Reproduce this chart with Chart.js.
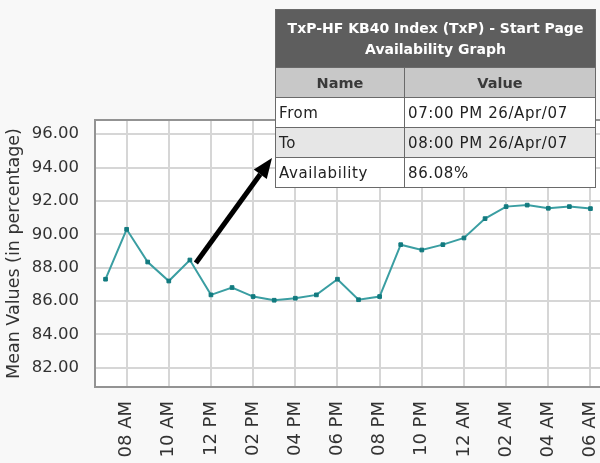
<!DOCTYPE html>
<html>
<head>
<meta charset="utf-8">
<script src="https://cdn.jsdelivr.net/npm/chart.js@4/dist/chart.umd.min.js"></script>
<style>
  html, body { margin: 0; padding: 0; background: #f8f8f8; }
  #wrap { position: relative; width: 600px; height: 463px; overflow: hidden; }
  #wrap canvas { position: absolute; left: 0; top: 0; }
  #info {
    position: absolute; left: 275px; top: 9px; width: 321px;
    border-collapse: collapse; font-family: 'DejaVu Sans', sans-serif;
    border: 1px solid #555;
  }
  #info td, #info th { border: 1px solid #6a6a6a; padding: 0 3px; }
  #info .titulo th {
    background: #5e5e5e; color: #fff; font-size: 14px; font-weight: bold;
    height: 57px; line-height: 21px; text-align: center; padding: 0;
  }
  #info .cab th {
    background: #c8c8c8; color: #3a3a3a; font-size: 14.5px; font-weight: bold;
    height: 29px; text-align: center;
  }
  #info td { font-size: 15px; letter-spacing: 0.6px; color: #222; height: 29px; background: #fff; }
  #info tr.cinza td { background: #e6e6e6; }
  #info td.nome { width: 122px; }
</style>
</head>
<body>
<div id="wrap">
  <canvas id="grafico" width="606" height="463"></canvas>
  <table id="info">
    <tr class="titulo"><th colspan="2">TxP-HF KB40 Index (TxP) - Start Page<br>Availability Graph</th></tr>
    <tr class="cab"><th>Name</th><th>Value</th></tr>
    <tr><td class="nome">From</td><td>07:00 PM 26/Apr/07</td></tr>
    <tr class="cinza"><td class="nome">To</td><td>08:00 PM 26/Apr/07</td></tr>
    <tr><td class="nome">Availability</td><td>86.08%</td></tr>
  </table>
</div>
<script>
// ── Dados ───────────────────────────────────────────────
var HORAS = [
  '07 AM', '08 AM', '09 AM', '10 AM', '11 AM', '12 PM',
  '01 PM', '02 PM', '03 PM', '04 PM', '05 PM', '06 PM',
  '07 PM', '08 PM', '09 PM', '10 PM', '11 PM', '12 AM',
  '01 AM', '02 AM', '03 AM', '04 AM', '05 AM', '06 AM'
];
var MEDIAS = [
  87.31, 90.30, 88.34, 87.20, 88.46, 86.37,
  86.81, 86.27, 86.05, 86.17, 86.37, 87.31,
  86.08, 86.27, 89.38, 89.06, 89.38, 89.78,
  90.94, 91.66, 91.75, 91.56, 91.66, 91.54
];
var TICKS_Y = [82, 84, 86, 88, 90, 92, 94, 96];
var Y_MIN = 80.85;
var Y_MAX = 96.85;
var PONTO_SETA = 4; // ponto de onde sai a seta

// ── Cores ───────────────────────────────────────────────
var TEAL        = '#3a9ea2';
var TEAL_ESCURO = '#127a7f';
var GRADE       = '#d6d6d6';
var BORDA       = '#939393';
var TEXTO       = '#333333';

// fundo branco + moldura da área do gráfico
var moldura = {
  id: 'moldura',
  beforeDraw: function(chart) {
    var a = chart.chartArea, ctx = chart.ctx;
    ctx.save();
    ctx.fillStyle = '#ffffff';
    ctx.fillRect(a.left, a.top, a.right - a.left, a.bottom - a.top);
    ctx.restore();
  },
  afterDatasetsDraw: function(chart) {
    var a = chart.chartArea, ctx = chart.ctx;
    ctx.save();
    ctx.strokeStyle = BORDA;
    ctx.lineWidth = 2;
    ctx.strokeRect(a.left, a.top, a.right - a.left, a.bottom - a.top);
    ctx.restore();
  }
};

// seta preta do ponto até a tabela
var seta = {
  id: 'seta',
  afterDraw: function(chart) {
    var ctx = chart.ctx;
    var x0 = chart.scales.x.getPixelForValue(PONTO_SETA) + 6;
    var y0 = chart.scales.y.getPixelForValue(MEDIAS[PONTO_SETA]) + 3;
    var x1 = 272, y1 = 158;
    var ang = Math.atan2(y1 - y0, x1 - x0);
    var comp = 20, larg = 8;
    var bx = x1 - comp * Math.cos(ang), by = y1 - comp * Math.sin(ang);
    ctx.save();
    ctx.strokeStyle = '#000';
    ctx.lineWidth = 5;
    ctx.beginPath();
    ctx.moveTo(x0, y0);
    ctx.lineTo(bx, by);
    ctx.stroke();
    ctx.fillStyle = '#000';
    ctx.beginPath();
    ctx.moveTo(x1, y1);
    ctx.lineTo(bx + larg * Math.sin(ang), by - larg * Math.cos(ang));
    ctx.lineTo(bx - larg * Math.sin(ang), by + larg * Math.cos(ang));
    ctx.closePath();
    ctx.fill();
    ctx.restore();
  }
};

new Chart(document.getElementById('grafico'), {
  type: 'line',
  data: {
    labels: HORAS,
    datasets: [{
      data: MEDIAS,
      borderColor: TEAL,
      borderWidth: 2,
      pointStyle: 'rect',
      pointRadius: 2.6,
      pointBackgroundColor: TEAL_ESCURO,
      pointBorderColor: TEAL_ESCURO,
      pointBorderWidth: 1,
      tension: 0
    }]
  },
  options: {
    responsive: false,
    animation: false,
    layout: { padding: { top: 120, right: 4, left: 0, bottom: 0 } },
    plugins: { legend: { display: false }, tooltip: { enabled: false } },
    scales: {
      x: {
        type: 'category',
        offset: true,
        border: { display: false },
        grid: {
          offset: false,
          drawTicks: false,
          lineWidth: 2,
          color: function(ctx) { return ctx.index % 2 === 1 ? GRADE : 'rgba(0,0,0,0)'; }
        },
        ticks: {
          autoSkip: false,
          minRotation: 90,
          maxRotation: 90,
          padding: 14,
          color: TEXTO,
          font: { family: "'DejaVu Sans', sans-serif", size: 18 },
          callback: function(v, i) { return i % 2 === 1 ? HORAS[i] : ''; }
        },
        afterFit: function(s) {
          s.height = 76;
          s.paddingLeft = 0;
          s.paddingRight = 0;
        }
      },
      y: {
        min: Y_MIN,
        max: Y_MAX,
        border: { display: false },
        grid: { color: GRADE, lineWidth: 2, drawTicks: false },
        afterBuildTicks: function(s) {
          s.ticks = TICKS_Y.map(function(v) { return { value: v }; });
        },
        ticks: {
          padding: 16,
          color: TEXTO,
          font: { family: "'DejaVu Sans', sans-serif", size: 16.5 },
          callback: function(v) { return v.toFixed(2); }
        },
        title: {
          display: true,
          text: 'Mean Values (in percentage)',
          color: TEXTO,
          padding: { top: 4, bottom: 0 },
          font: { family: "'DejaVu Sans', sans-serif", size: 17.5 }
        },
        afterFit: function(s) {
          s.width = 95;
          s.paddingTop = 0;
          s.paddingBottom = 0;
        }
      }
    }
  },
  plugins: [moldura, seta]
});
</script>
</body>
</html>
